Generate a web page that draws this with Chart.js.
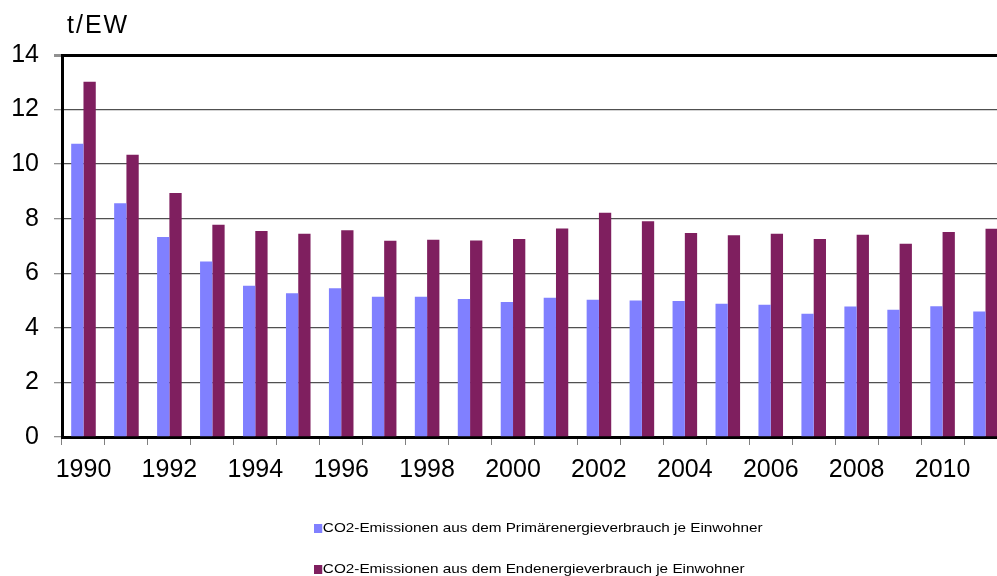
<!DOCTYPE html>
<html>
<head>
<meta charset="utf-8">
<script src="https://cdn.jsdelivr.net/npm/chart.js@4.4.0/dist/chart.umd.min.js"></script>
<style>
    html, body { margin: 0; padding: 0; background: #fff; overflow: hidden; width: 997px; height: 576px; }
    #wrap { position: absolute; left: 0; top: 0; width: 1012px; height: 576px; }
    #unit { position: absolute; left: 67px; top: 10px; font: 25px "Liberation Sans", Arial, sans-serif; letter-spacing: 2px; color: #000; }
    .leg { position: absolute; left: 314px; font: 13px "Liberation Sans", Arial, sans-serif; color: #000; white-space: nowrap; transform: scaleX(1.177); transform-origin: left center; }
    .leg i { display: inline-block; width: 6.5px; height: 9px; margin-right: 1px; vertical-align: -1px; }
</style>
</head>
<body>
<div id="wrap"><canvas id="co2Chart"></canvas></div>
<div id="unit">t/EW</div>
<div class="leg" id="leg1" style="top: 520px;"><i style="background:#8080ff"></i>CO2-Emissionen aus dem Primärenergieverbrauch je Einwohner</div>
<div class="leg" id="leg2" style="top: 561px;"><i style="background:#7f1f5f"></i>CO2-Emissionen aus dem Endenergieverbrauch je Einwohner</div>
<script>
// Years and per-capita CO2 values (t/EW)
const years = ['1990', '1991', '1992', '1993', '1994', '1995', '1996', '1997', '1998', '1999', '2000',
               '2001', '2002', '2003', '2004', '2005', '2006', '2007', '2008', '2009', '2010', '2011'];
const primaryValues = [10.75, 8.57, 7.33, 6.43, 5.54, 5.27, 5.45, 5.14, 5.14, 5.06, 4.95,
                       5.10, 5.03, 5.00, 4.98, 4.88, 4.85, 4.52, 4.78, 4.66, 4.79, 4.60];
const finalValues = [13.02, 10.34, 8.94, 7.78, 7.55, 7.45, 7.58, 7.19, 7.23, 7.20, 7.26,
                     7.64, 8.22, 7.91, 7.48, 7.39, 7.45, 7.26, 7.41, 7.08, 7.51, 7.63];
const yTicks = [0, 2, 4, 6, 8, 10, 12, 14];

const ctx = document.getElementById('co2Chart').getContext('2d');
const co2Chart = new Chart(ctx, {
    type: 'bar',
    data: {
        labels: years,
        datasets: [
            {
                label: 'CO2-Emissionen aus dem Primärenergieverbrauch je Einwohner',
                data: primaryValues,
                backgroundColor: '#8080ff'
            },
            {
                label: 'CO2-Emissionen aus dem Endenergieverbrauch je Einwohner',
                data: finalValues,
                backgroundColor: '#7f1f5f'
            }
        ]
    },
    options: {
        responsive: true,
        maintainAspectRatio: false,
        animation: false,
        categoryPercentage: 0.572,
        barPercentage: 1.0,
        layout: {
            padding: { top: 55, right: 5, left: 0, bottom: 0 }
        },
        plugins: {
            legend: { display: false },
            tooltip: { enabled: false }
        },
        scales: {
            x: {
                afterFit: scale => { scale.height = 139; },
                grid: {
                    offset: true,
                    drawOnChartArea: false,
                    drawTicks: true,
                    tickLength: 8,
                    tickColor: '#808080'
                },
                border: { display: true, color: '#000', width: 3 },
                ticks: {
                    autoSkip: false,
                    maxRotation: 0,
                    padding: 10,
                    color: '#000',
                    font: { family: 'Liberation Sans', size: 25 },
                    callback: function (val, i) {
                        return i % 2 === 0 ? years[i] : '';
                    }
                }
            },
            y: {
                min: 0,
                max: 14,
                afterFit: scale => { scale.width = 62; },
                afterBuildTicks: scale => {
                    scale.ticks = yTicks.map(v => ({ value: v }));
                },
                grid: {
                    color: c => (c.tick && c.tick.value === 14 ? '#000' : '#505050'),
                    lineWidth: c => (c.tick && c.tick.value === 14 ? 3 : 1.3),
                    tickLength: 8,
                    tickColor: '#909090'
                },
                border: { display: true, color: '#000', width: 3 },
                ticks: {
                    padding: 15,
                    color: '#000',
                    font: { family: 'Liberation Sans', size: 25 }
                }
            }
        }
    }
});
</script>
</body>
</html>
